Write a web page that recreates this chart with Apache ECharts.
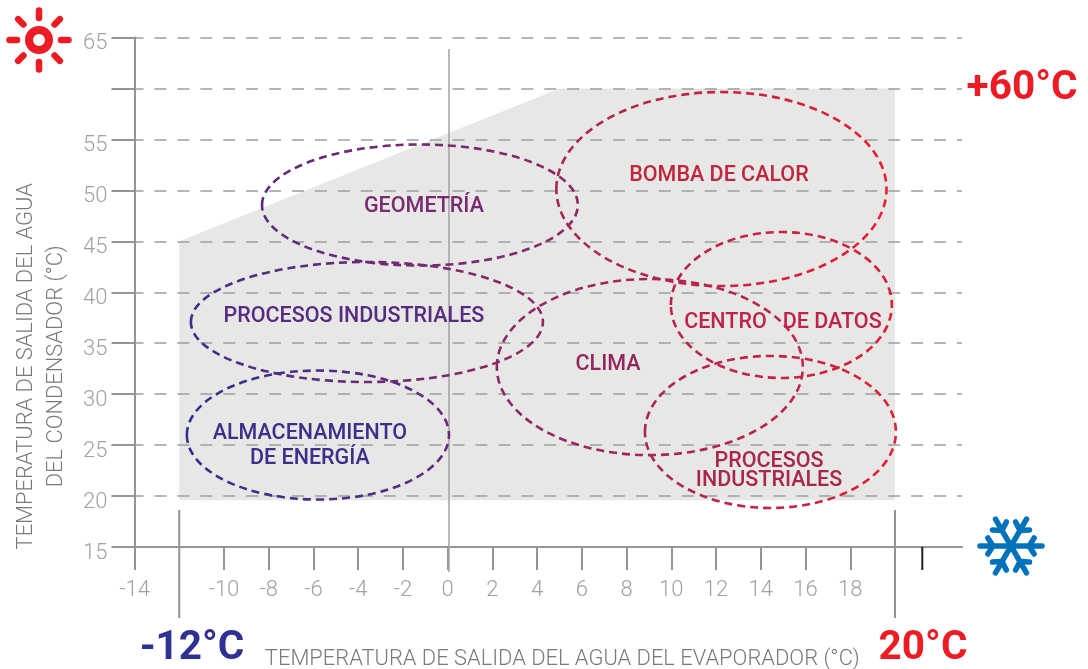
<!DOCTYPE html>
<html>
<head>
<meta charset="utf-8">
<title>Temperaturas</title>
<script src="https://cdn.jsdelivr.net/npm/echarts@6/dist/echarts.min.js"></script>
<style>
    html, body { margin: 0; background: #fff; }
    #chart { width: 1088px; height: 669px; }
</style>
</head>
<body>
<div id="chart"></div>
<script>
const xTicks = [-14, -10, -8, -6, -4, -2, 0, 2, 4, 6, 8, 10, 12, 14, 16, 18];
const xLabels = [-14, -10, -8, -6, -4, -2, 0, 2, 4, 6, 8, 10, 12, 14, 16, 18];
const yTicks = [15, 20, 25, 30, 35, 40, 45, 50, 55, 60, 65];
const yLabels = [15, 20, 25, 30, 35, 40, 45, 50, 55, 65];

// working envelope (evaporator, condenser)
const envelopeX = [-12, -12, 5, 20, 20];
const envelopeY = [19.6, 45, 60, 60, 19.6];

// application areas, centre and radii in axis units
const regionNames = ['Geometría', 'Procesos industriales', 'Almacenamiento', 'Bomba de calor', 'Centro de datos', 'Clima', 'Procesos industriales 2'];
const regionX = [-1.24, -3.61, -5.80, 12.24, 14.92, 9.04, 14.43];
const regionY = [48.56, 37.08, 25.99, 50.13, 38.75, 32.66, 26.29];
const regionRx = [7.06, 7.87, 5.86, 7.38, 4.94, 6.84, 5.61];
const regionRy = [5.94, 5.89, 6.33, 9.52, 7.16, 8.64, 7.46];

const labelTexts = ['GEOMETRÍA', 'PROCESOS INDUSTRIALES', 'ALMACENAMIENTO', 'DE ENERGÍA', 'BOMBA DE CALOR', 'CENTRO   DE DATOS', 'CLIMA', 'PROCESOS', 'INDUSTRIALES'];
const labelX = [-1.06, -4.19, -6.16, -6.16, 12.13, 14.99, 7.17, 14.37, 14.37];
const labelY = [48.39, 37.60, 26.11, 23.66, 51.43, 37.01, 32.88, 23.37, 21.50];

// long limit marks and small guide lines: x, y from, y to
const limitX = [-12, 20];
const limitFrom = [18.63, 18.63];
const limitTo = [8.03, 8.03];
const zeroLine = [0.06, 63.87, 12.55];
const blackTick = [21.22, 15, 12.74];

const AXIS_COLOR = '#939598';
const LABEL_COLOR = '#9fa1a4';
const TITLE_COLOR = '#77797c';
const RED = '#ed1c24';
const BLUE = '#2e3192';
const ICE = '#0072bc';
const FONT = 'Roboto, sans-serif';
const REGION_COLORS = [
    ['#5b2a80', '#8f2766'],
    ['#3f2d8a', '#962662'],
    ['#2e3192', '#662a7c'],
    ['#a52658', '#ed1c2e'],
    ['#b8244f', '#d8203a'],
    ['#8a2869', '#c3234a'],
    ['#a8265a', '#e01f33']
];
const LABEL_COLORS = ['#7a2a70', '#562b80', '#3c2e8a', '#3c2e8a', '#c1263f', '#c0234a', '#93265f', '#a9264f', '#a9264f'];

const chart = echarts.init(document.getElementById('chart'));

const lineStyle = (color, width) => ({ stroke: color, lineWidth: width, fill: 'none' });

const sunIcon = () => {
    const cx = 39, cy = 40;
    const children = [{
        type: 'circle',
        shape: { cx: cx, cy: cy, r: 10 },
        style: { fill: 'none', stroke: RED, lineWidth: 8 }
    }];
    for (let i = 0; i < 8; i++) {
        const a = i * Math.PI / 4;
        children.push({
            type: 'line',
            shape: { x1: cx + 22 * Math.cos(a), y1: cy + 22 * Math.sin(a), x2: cx + 29.5 * Math.cos(a), y2: cy + 29.5 * Math.sin(a) },
            style: { stroke: RED, lineWidth: 6.5, lineCap: 'round' }
        });
    }
    return { type: 'group', children: children };
};

const snowIcon = () => {
    const cx = 1011, cy = 546;
    const children = [];
    const seg = (x1, y1, x2, y2) => ({
        type: 'line',
        shape: { x1: x1, y1: y1, x2: x2, y2: y2 },
        style: { stroke: ICE, lineWidth: 5.5, lineCap: 'round' }
    });
    for (let i = 0; i < 6; i++) {
        const a = i * Math.PI / 3;
        const bx = cx + 18 * Math.cos(a), by = cy + 18 * Math.sin(a);
        children.push(seg(cx, cy, cx + 31 * Math.cos(a), cy + 31 * Math.sin(a)));
        children.push(seg(bx, by, bx + 9.5 * Math.cos(a + 1), by + 9.5 * Math.sin(a + 1)));
        children.push(seg(bx, by, bx + 9.5 * Math.cos(a - 1), by + 9.5 * Math.sin(a - 1)));
    }
    return { type: 'group', children: children };
};

const bigText = (text, x, y, color) => ({
    type: 'text',
    x: x,
    y: y,
    style: { text: text, fill: color, font: 'bold 40.5px ' + FONT, align: 'center', verticalAlign: 'middle' }
});

const option = {
    animation: false,
    backgroundColor: '#fff',
    grid: { left: 134.5, top: 37.5, width: 827.6, height: 509.5, show: false, outerBoundsMode: 'none' },
    xAxis: {
        type: 'value',
        min: -14,
        max: 23,
        interval: 2,
        splitLine: { show: false },
        axisLine: { onZero: false, lineStyle: { color: AXIS_COLOR, width: 2 } },
        axisTick: { customValues: xTicks, length: 23, lineStyle: { color: AXIS_COLOR, width: 2 } },
        axisLabel: {
            customValues: xLabels,
            margin: 32,
            color: LABEL_COLOR,
            fontFamily: FONT,
            fontWeight: 300,
            fontSize: 22
        },
        name: 'TEMPERATURA DE SALIDA DEL AGUA DEL EVAPORADOR (°C)',
        nameLocation: 'middle',
        nameGap: 102,
        nameTextStyle: { color: TITLE_COLOR, fontFamily: FONT, fontWeight: 300, fontSize: 21.9, padding: [0, 0, 0, 28] }
    },
    yAxis: {
        type: 'value',
        min: 15,
        max: 65,
        interval: 5,
        splitLine: {
            show: true,
            showMinLine: false,
            lineStyle: { color: '#9d9fa2', width: 1.5, type: [12, 10.93], dashOffset: 3 }
        },
        axisLine: { onZero: false, lineStyle: { color: AXIS_COLOR, width: 2 } },
        axisTick: { customValues: yTicks, length: 23, lineStyle: { color: AXIS_COLOR, width: 2 } },
        axisLabel: {
            customValues: yLabels,
            margin: 27,
            verticalAlign: 'top',
            lineHeight: 12,
            color: LABEL_COLOR,
            fontFamily: FONT,
            fontWeight: 300,
            fontSize: 22
        },
        name: 'TEMPERATURA DE SALIDA DEL AGUA\nDEL CONDENSADOR (°C)',
        nameLocation: 'middle',
        nameGap: 63,
        nameTextStyle: { color: TITLE_COLOR, fontFamily: FONT, fontWeight: 300, fontSize: 21.9, lineHeight: 30, padding: [0, 148, 0, 0] }
    },
    graphic: {
        elements: [
            sunIcon(),
            snowIcon(),
            bigText('-12°C', 192, 649, BLUE),
            bigText('20°C', 923, 649, RED),
            bigText('+60°C', 1022, 89, RED)
        ]
    },
    series: [
        {
            // grey envelope, below the grid lines
            type: 'custom',
            z: -1,
            silent: true,
            coordinateSystem: 'cartesian2d',
            data: envelopeX.map((x, i) => [x, envelopeY[i]]),
            renderItem: (params, api) => {
                if (params.dataIndex !== 0) return;
                return {
                    type: 'polygon',
                    shape: { points: envelopeX.map((x, i) => api.coord([x, envelopeY[i]])) },
                    style: { fill: '#e7e7e6' }
                };
            }
        },
        {
            // limit marks and guide lines
            type: 'custom',
            z: 3,
            silent: true,
            coordinateSystem: 'cartesian2d',
            data: [
                [limitX[0], limitFrom[0], limitTo[0], AXIS_COLOR, 2],
                [limitX[1], limitFrom[1], limitTo[1], AXIS_COLOR, 2],
                [zeroLine[0], zeroLine[1], zeroLine[2], LABEL_COLOR, 1.5],
                [blackTick[0], blackTick[1], blackTick[2], '#231f20', 2]
            ],
            encode: { x: 0, y: 1 },
            renderItem: (params, api) => {
                const a = api.coord([api.value(0), api.value(1)]);
                const b = api.coord([api.value(0), api.value(2)]);
                return {
                    type: 'line',
                    shape: { x1: a[0], y1: a[1], x2: b[0], y2: b[1] },
                    style: lineStyle(api.value(3), api.value(4))
                };
            }
        },
        {
            // dashed application areas
            type: 'custom',
            name: 'Aplicaciones',
            z: 4,
            silent: true,
            coordinateSystem: 'cartesian2d',
            data: regionNames.map((n, i) => [regionX[i], regionY[i], regionRx[i], regionRy[i], n]),
            encode: { x: 0, y: 1 },
            renderItem: (params, api) => {
                const c = api.coord([api.value(0), api.value(1)]);
                const s = api.size([api.value(2), api.value(3)]);
                const colors = REGION_COLORS[params.dataIndex];
                return {
                    type: 'ellipse',
                    shape: { cx: c[0], cy: c[1], rx: s[0], ry: s[1] },
                    style: {
                        fill: 'none',
                        stroke: new echarts.graphic.LinearGradient(0, 0, 1, 0, [
                            { offset: 0, color: colors[0] },
                            { offset: 1, color: colors[1] }
                        ]),
                        lineWidth: 2.6,
                        lineDash: [8, 5]
                    }
                };
            }
        },
        {
            // names of the areas
            type: 'custom',
            z: 5,
            silent: true,
            coordinateSystem: 'cartesian2d',
            data: labelTexts.map((t, i) => [labelX[i], labelY[i], t]),
            encode: { x: 0, y: 1 },
            renderItem: (params, api) => {
                const c = api.coord([api.value(0), api.value(1)]);
                return {
                    type: 'text',
                    x: c[0],
                    y: c[1],
                    style: {
                        text: labelTexts[params.dataIndex],
                        fill: LABEL_COLORS[params.dataIndex],
                        font: '500 21.5px ' + FONT,
                        align: 'center',
                        verticalAlign: 'middle'
                    }
                };
            }
        }
    ]
};

chart.setOption(option);
</script>
</body>
</html>
